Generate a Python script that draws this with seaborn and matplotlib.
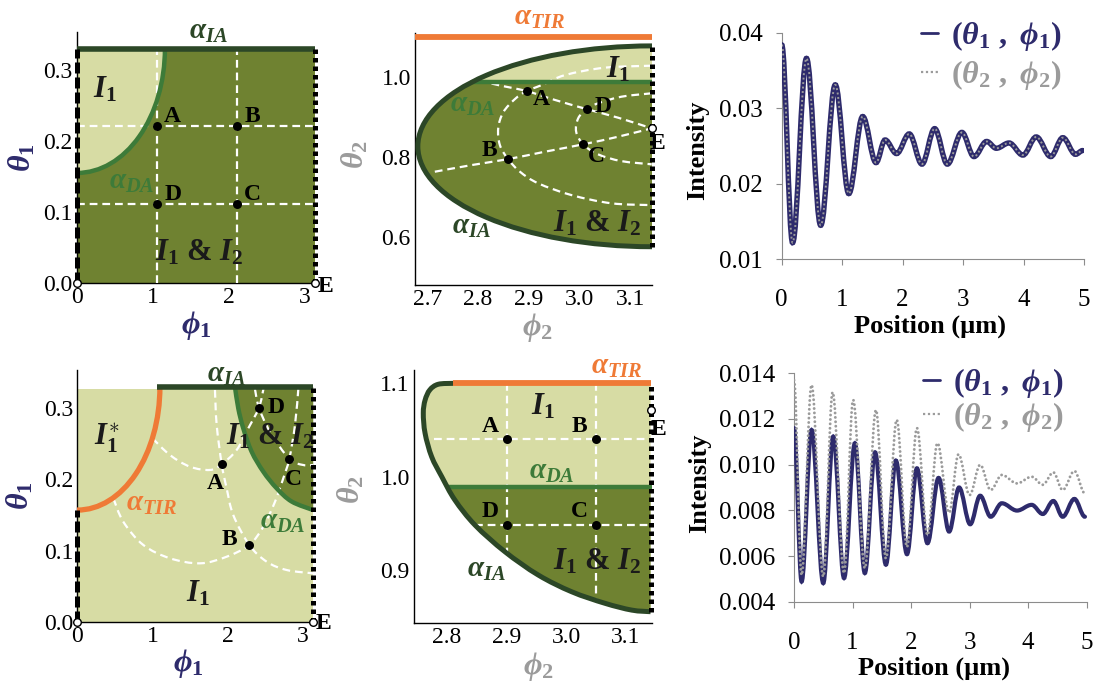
import numpy as np
import matplotlib
matplotlib.use("Agg")
import matplotlib.pyplot as plt
import seaborn as sns
from matplotlib.path import Path
from matplotlib.patches import PathPatch, Ellipse, Rectangle
from matplotlib.lines import Line2D

sns.set_theme(style="white")
plt.rcParams["font.family"] = ["Liberation Serif", "DejaVu Serif"]
plt.rcParams["mathtext.fontset"] = "custom"
plt.rcParams["mathtext.rm"] = "Liberation Serif:bold"
plt.rcParams["mathtext.it"] = "Liberation Serif:italic:bold"
plt.rcParams["mathtext.bf"] = "Liberation Serif:bold"

PI = np.pi

# ---------------- colours ----------------
DARK_FILL = "#6f8231"
LIGHT_FILL = "#d7dca4"
IA_GREEN = "#2c4727"
DA_GREEN = "#3d7b39"
TIR_ORANGE = "#ef7a36"
NAVY = "#2e2b6c"
GREY = "#9b9b9b"

# ---------------- data: top-left map (theta1 vs phi1) ----------------
tl_names = ["A", "B", "C", "D"]
tl_phi = [1.06, 2.115, 2.115, 1.06]
tl_theta = [0.221, 0.221, 0.111, 0.111]
tl_grid_phi = [1.06, 2.115]
tl_grid_theta = [0.221, 0.111]
tl_ia_theta = 0.33
tl_da_centre = (0.0, 0.33)
tl_da_half_axes = (1.16, 0.175)

# ---------------- data: top-middle map (theta2 vs phi2) ----------------
tm_names = ["A", "B", "C", "D"]
tm_phi = [2.8955, 2.859, 3.007, 3.0135]
tm_theta = [0.964, 0.794, 0.831, 0.919]
tm_e = (PI, 0.871)
tm_tir_theta = 1.10
tm_da_theta = 0.9875
tm_da_start = 2.789
tm_ia_centre = (PI, 0.826)
tm_ia_half_axes = (0.46, 0.251)
tm_ade_phi = [2.778, 2.840, 2.8955, 2.951, 3.0135, 3.0756, PI]
tm_ade_theta = [0.997, 0.979, 0.964, 0.942, 0.919, 0.8975, 0.871]
tm_bce_phi = [2.715, 2.787, 2.859, 2.9315, 3.007, 3.0756, PI]
tm_bce_theta = [0.7625, 0.779, 0.794, 0.8125, 0.831, 0.85, 0.871]
tm_ab_phi = [PI, 3.049, 2.971, 2.925, 2.8955, 2.8725, 2.8496, 2.8397, 2.843,
             2.859, 2.8824, 2.9183, 2.984, 3.0626, PI]
tm_ab_theta = [1.0275, 1.0225, 1.004, 0.979, 0.964, 0.944, 0.911, 0.871, 0.829,
               0.794, 0.7625, 0.7335, 0.704, 0.6835, 0.679]
tm_dc_phi = [PI, 3.082, 3.036, 3.0135, 2.997, 2.993, 3.007, 3.036, 3.082, PI]
tm_dc_theta = [0.9585, 0.95, 0.9335, 0.919, 0.896, 0.8625, 0.831, 0.806, 0.789, 0.781]

# ---------------- data: bottom-left map (theta1 vs phi1) ----------------
bl_names = ["A", "B", "C", "D"]
bl_phi = [1.923, 2.290, 2.823, 2.419]
bl_theta = [0.2214, 0.108, 0.229, 0.301]
bl_top = 0.33
bl_ia_start = 1.065
bl_tir_centre = (0.0, 0.33)
bl_tir_half_axes = (1.10, 0.173)
bl_da_phi = [2.100, 2.144, 2.210, 2.322, 2.477, 2.655, 2.855, PI]
bl_da_theta = [0.33, 0.300, 0.272, 0.239, 0.211, 0.1876, 0.169, 0.157]
bl_inner_phi = [1.0, 1.234, 1.501, 1.767, 1.923, 2.122, 2.277, 2.419, 2.48]
bl_inner_theta = [0.258, 0.2344, 0.218, 0.2134, 0.2214, 0.2415, 0.272, 0.301, 0.328]
bl_outer_phi = [0.48, 0.6125, 0.879, 1.234, 1.634, 1.989, 2.290, 2.477, 2.633,
                2.743, 2.823, 2.899, 2.943]
bl_outer_theta = [0.1736, 0.1406, 0.1079, 0.0892, 0.0821, 0.0914, 0.108, 0.1336,
                  0.1688, 0.2017, 0.229, 0.2767, 0.327]
bl_ab_phi = [1.833, 1.856, 1.923, 1.989, 2.077, 2.290, 2.522, 2.788, PI]
bl_ab_theta = [0.326, 0.2767, 0.2214, 0.1876, 0.150, 0.108, 0.0844, 0.0727, 0.068]
bl_dc_phi = [2.366, 2.419, 2.566, 2.823, 3.009, PI]
bl_dc_theta = [0.327, 0.301, 0.267, 0.229, 0.2204, 0.2204]

# ---------------- data: bottom-middle map (theta2 vs phi2) ----------------
bm_names = ["A", "B", "C", "D"]
bm_phi = [2.9, 3.05, 3.05, 2.9]
bm_theta = [1.04, 1.04, 0.948, 0.948]
bm_e = (PI, 1.0715)
bm_tir_theta = 1.10
bm_tir_start = 2.81
bm_da_theta = 0.989
bm_da_start = 2.801
bm_ia_phi = [2.810, 2.785, 2.771, 2.763, 2.760, 2.763, 2.774, 2.791, 2.813, 2.847,
             2.897, 2.953, 3.009, 3.065, 3.110, PI]
bm_ia_theta = [1.100, 1.099, 1.093, 1.082, 1.068, 1.0465, 1.0214, 1.0, 0.975, 0.948,
               0.9196, 0.8946, 0.8767, 0.8643, 0.857, 0.8553]
bm_hline_start = [2.778, 2.847]
bm_vline_end = [0.9196, 0.867]

# ---------------- data: intensity profiles (extrema along position) ----------------
tr_pos = [0, 0.18, 0.41, 0.645, 0.886, 1.11, 1.34, 1.56, 1.71, 1.90, 2.11, 2.32,
          2.53, 2.74, 2.98, 3.18, 3.39, 3.55, 3.76, 3.99, 4.21, 4.45, 4.65, 4.86, 4.98]
tr_int1 = [0.0384, 0.0122, 0.0366, 0.0145, 0.0331, 0.0187, 0.0289, 0.0228, 0.0258,
           0.0240, 0.0266, 0.0226, 0.0273, 0.0226, 0.0268, 0.0236, 0.0256, 0.0247,
           0.0254, 0.0238, 0.0262, 0.0236, 0.0261, 0.0239, 0.0244]
# the second configuration coincides with the first one here
tr_int2 = list(tr_int1)

br_pos1 = [0, 0.13, 0.30, 0.50, 0.67, 0.855, 1.04, 1.21, 1.385, 1.57, 1.74, 1.93,
           2.10, 2.28, 2.47, 2.65, 2.82, 3.01, 3.18, 3.36, 3.55, 3.81, 4.06, 4.25,
           4.43, 4.59, 4.79, 4.97]
br_int1 = [0.0116, 0.00488, 0.01152, 0.00481, 0.01123, 0.00503, 0.01094, 0.00525,
           0.01054, 0.00562, 0.01018, 0.00608, 0.00984, 0.00656, 0.00942, 0.00707,
           0.00900, 0.00739, 0.00864, 0.00772, 0.00831, 0.00799, 0.00824, 0.00784,
           0.00841, 0.00772, 0.00850, 0.00772]
br_pos2 = [0, 0.13, 0.30, 0.50, 0.66, 0.855, 1.01, 1.21, 1.40, 1.57, 1.755, 1.93,
           2.10, 2.28, 2.45, 2.65, 2.81, 3.00, 3.18, 3.36, 3.55, 3.81, 4.06, 4.25,
           4.43, 4.59, 4.79, 4.97]
br_int2 = [0.0137, 0.00517, 0.01349, 0.0051, 0.01317, 0.00525, 0.01283, 0.00547,
           0.01239, 0.0059, 0.01196, 0.0064, 0.0116, 0.00692, 0.01094, 0.0079,
           0.01045, 0.00867, 0.00999, 0.00889, 0.00955, 0.00918, 0.00947, 0.00912,
           0.00966, 0.00889, 0.00972, 0.00874]

# ---------------- helpers ----------------
W, H = 1099, 683
fig = plt.figure(figsize=(W / 100, H / 100), dpi=100)
fig.patch.set_facecolor("white")


def add_px_axes(l, t, r, b):
    return fig.add_axes([l / W, 1 - b / H, (r - l) / W, (b - t) / H])


def smooth_path(xs, ys):
    p = np.column_stack([xs, ys]).astype(float)
    n = len(p)
    verts, codes = [p[0]], [Path.MOVETO]
    for i in range(n - 1):
        p0 = p[i - 1] if i > 0 else p[i]
        p3 = p[i + 2] if i + 2 < n else p[i + 1]
        verts += [p[i] + (p[i + 1] - p0) / 6.0, p[i + 1] - (p3 - p[i]) / 6.0, p[i + 1]]
        codes += [Path.CURVE4] * 3
    return verts, codes


def wave_path(xs, ys, k=0.36):
    verts, codes = [(xs[0], ys[0])], [Path.MOVETO]
    for i in range(len(xs) - 1):
        dx = xs[i + 1] - xs[i]
        verts += [(xs[i] + k * dx, ys[i]), (xs[i + 1] - k * dx, ys[i + 1]), (xs[i + 1], ys[i + 1])]
        codes += [Path.CURVE4] * 3
    return verts, codes


def curve(ax, xs, ys, clip=None, **kw):
    v, c = smooth_path(xs, ys)
    patch = PathPatch(Path(v, c), fill=False, **kw)
    ax.add_patch(patch)
    if clip is not None:
        patch.set_clip_path(clip)
    return patch


def white_dash(ax, xs, ys):
    curve(ax, xs, ys, edgecolor="white", lw=1.6, linestyle=(0, (3.5, 2.2)), zorder=3)


def phase_style(ax, xlim, ylim, xticks, xlabels, yticks, ylabels):
    ax.set_xlim(*xlim)
    ax.set_ylim(*ylim)
    ax.set_xticks(xticks)
    ax.set_xticklabels(xlabels)
    ax.set_yticks(yticks)
    ax.set_yticklabels(ylabels)
    ax.set_facecolor("none")
    for s in ["top", "right"]:
        ax.spines[s].set_visible(False)
    for s in ["left", "bottom"]:
        ax.spines[s].set_color("black")
        ax.spines[s].set_linewidth(1.0)
    ax.tick_params(length=0, labelsize=17, pad=3, colors="black")


def edge_lines(ax, left=None, right=None):
    if left is not None:
        ax.plot([left[0], left[0]], [left[1], left[2]], color="black", lw=3.6,
                dashes=(2.2, 0.8), solid_capstyle="butt", dash_capstyle="butt",
                zorder=5, clip_on=False)
    if right is not None:
        ax.plot([right[0], right[0]], [right[1], right[2]], color="black", lw=3.6,
                dashes=(0.9, 0.8), dash_capstyle="butt", zorder=5, clip_on=False)


def points(ax, xs, ys, names, offsets):
    sns.scatterplot(x=xs, y=ys, ax=ax, color="black", s=42, edgecolor="black",
                    linewidth=0, zorder=7, legend=False)
    for x, y, n, off in zip(xs, ys, names, offsets):
        ax.annotate(n, (x, y), xytext=off, textcoords="offset points", ha="center",
                    va="center", fontsize=17, fontweight="bold", color="black", zorder=8)


def open_point(ax, x, y, label=None, off=(7, -2)):
    sns.scatterplot(x=[x], y=[y], ax=ax, color="white", s=30, edgecolor="black",
                    linewidth=1.0, zorder=9, legend=False)
    ax.collections[-1].set_clip_on(False)
    if label:
        ax.annotate(label, (x, y), xytext=off, textcoords="offset points", ha="center",
                    va="center", fontsize=17, fontweight="bold", color="black", zorder=9)


def region_text(ax, x, y, s, color="#1a1a1a", size=22):
    ax.text(x, y, s, ha="center", va="center", fontsize=size, color=color,
            fontweight="bold", zorder=8)


# =============== top-left panel ===============
ax = add_px_axes(77, 32, 316.5, 283)
phase_style(ax, (0, 3.16), (0, 0.3535), [0, 1, 2, 3], ["0", "1", "2", "3"],
            [0, 0.1, 0.2, 0.3], ["0.0", "0.1", "0.2", "0.3"])
box = Rectangle((0, 0), PI, tl_ia_theta, transform=ax.transData)
ax.add_patch(Rectangle((0, 0), PI, tl_ia_theta, facecolor=DARK_FILL, edgecolor="none", zorder=1))
light = Ellipse(tl_da_centre, 2 * tl_da_half_axes[0], 2 * tl_da_half_axes[1],
                facecolor=LIGHT_FILL, edgecolor="none", zorder=1.5)
ax.add_patch(light)
light.set_clip_path(box)
for g in tl_grid_theta:
    ax.plot([0, PI], [g, g], color="white", lw=1.6, dashes=(3.5, 2.2), zorder=3)
for g in tl_grid_phi:
    ax.plot([g, g], [0, tl_ia_theta], color="white", lw=1.6, dashes=(3.5, 2.2), zorder=3)
outline = Ellipse(tl_da_centre, 2 * tl_da_half_axes[0], 2 * tl_da_half_axes[1],
                  facecolor="none", edgecolor=DA_GREEN, lw=3.2, zorder=4)
ax.add_patch(outline)
outline.set_clip_path(box)
ax.plot([0, PI], [tl_ia_theta, tl_ia_theta], color=IA_GREEN, lw=4, zorder=4,
        solid_capstyle="butt", clip_on=False)
edge_lines(ax, left=(0, 0, tl_ia_theta), right=(PI, 0, tl_ia_theta))
points(ax, tl_phi, tl_theta, tl_names, [(11, 7)] * 4)
open_point(ax, 0, 0)
open_point(ax, PI, 0, "E", (7.5, -2.5))
region_text(ax, 0.37, 0.272, r"$I_1$")
region_text(ax, 1.61, 0.042, r"$I_1$ & $I_2$")
region_text(ax, 0.72, 0.143, r"$\alpha_{DA}$", DA_GREEN, 21)
region_text(ax, 1.73, 0.3535, r"$\alpha_{IA}$", IA_GREEN, 21)
ax.set_ylabel(r"$\theta_1$", fontsize=23, color=NAVY)
ax.yaxis.set_label_coords(-0.165, 0.5)
ax.set_xlabel(r"$\phi_1$", fontsize=23, color=NAVY)
ax.xaxis.set_label_coords(0.5, -0.105)

# =============== top-middle panel ===============
ax = add_px_axes(415, 33.3, 651.7, 285)
phase_style(ax, (2.676, PI), (0.4793, 1.1085), [2.7, 2.8, 2.9, 3.0, 3.1],
            ["2.7", "2.8", "2.9", "3.0", "3.1"], [0.6, 0.8, 1.0], ["0.6", "0.8", "1.0"])
upper = Rectangle((2.676, tm_da_theta), PI - 2.676, 0.11, transform=ax.transData)
ax.add_patch(Ellipse(tm_ia_centre, 2 * tm_ia_half_axes[0], 2 * tm_ia_half_axes[1],
                     facecolor=DARK_FILL, edgecolor="none", zorder=1))
lt = Ellipse(tm_ia_centre, 2 * tm_ia_half_axes[0], 2 * tm_ia_half_axes[1],
             facecolor=LIGHT_FILL, edgecolor="none", zorder=1.5)
ax.add_patch(lt)
lt.set_clip_path(upper)
white_dash(ax, tm_ade_phi, tm_ade_theta)
white_dash(ax, tm_bce_phi, tm_bce_theta)
white_dash(ax, tm_ab_phi, tm_ab_theta)
white_dash(ax, tm_dc_phi, tm_dc_theta)
ax.plot([tm_da_start, PI], [tm_da_theta, tm_da_theta], color=DA_GREEN, lw=3.2, zorder=4)
ax.add_patch(Ellipse(tm_ia_centre, 2 * tm_ia_half_axes[0], 2 * tm_ia_half_axes[1],
                     facecolor="none", edgecolor=IA_GREEN, lw=3.6, zorder=4))
ax.plot([2.676, PI], [tm_tir_theta, tm_tir_theta], color=TIR_ORANGE, lw=4.2, zorder=4,
        solid_capstyle="butt", clip_on=False)
edge_lines(ax, right=(PI, tm_ia_centre[1] - tm_ia_half_axes[1], tm_ia_centre[1] + tm_ia_half_axes[1]))
points(ax, tm_phi, tm_theta, tm_names, [(10.8, -5.8), (-13.2, 6.5), (9.6, -8.9), (12, 1.7)])
open_point(ax, tm_e[0], tm_e[1], "E", (4.3, -10.8))
region_text(ax, 3.075, 1.017, r"$I_1$")
region_text(ax, 3.033, 0.633, r"$I_1$ & $I_2$")
region_text(ax, 2.79, 0.93, r"$\alpha_{DA}$", DA_GREEN, 21)
region_text(ax, 2.787, 0.625, r"$\alpha_{IA}$", IA_GREEN, 21)
region_text(ax, 2.922, 1.149, r"$\alpha_{TIR}$", TIR_ORANGE, 21)
ax.set_ylabel(r"$\theta_2$", fontsize=23, color=GREY)
ax.yaxis.set_label_coords(-0.19, 0.52)
ax.set_xlabel(r"$\phi_2$", fontsize=23, color=GREY)
ax.xaxis.set_label_coords(0.515, -0.105)

# =============== bottom-left panel ===============
ax = add_px_axes(77.3, 370, 314.6, 621.7)
phase_style(ax, (0, 3.16), (0, 0.354), [0, 1, 2, 3], ["0", "1", "2", "3"],
            [0, 0.1, 0.2, 0.3], ["0.0", "0.1", "0.2", "0.3"])
box = Rectangle((0, 0), PI, bl_top, transform=ax.transData)
ax.add_patch(Rectangle((0, 0), PI, 0.327, facecolor=LIGHT_FILL, edgecolor="none", zorder=1))
v, c = smooth_path(bl_da_phi, bl_da_theta)
v = v + [(PI, bl_top), (bl_da_phi[0], bl_top), (bl_da_phi[0], bl_top)]
c = c + [Path.LINETO, Path.LINETO, Path.CLOSEPOLY]
ax.add_patch(PathPatch(Path(v, c), facecolor=DARK_FILL, edgecolor="none", zorder=1.5))
white_dash(ax, bl_inner_phi, bl_inner_theta)
white_dash(ax, bl_outer_phi, bl_outer_theta)
white_dash(ax, bl_ab_phi, bl_ab_theta)
white_dash(ax, bl_dc_phi, bl_dc_theta)
curve(ax, bl_da_phi, bl_da_theta, edgecolor=DA_GREEN, lw=3.2, zorder=4)
tir = Ellipse(bl_tir_centre, 2 * bl_tir_half_axes[0], 2 * bl_tir_half_axes[1],
              facecolor="none", edgecolor=TIR_ORANGE, lw=3.8, zorder=4)
ax.add_patch(tir)
tir.set_clip_path(box)
ax.plot([bl_ia_start, PI], [bl_top, bl_top], color=IA_GREEN, lw=4, zorder=4,
        solid_capstyle="butt", clip_on=False)
edge_lines(ax, left=(0, 0, bl_tir_centre[1] - bl_tir_half_axes[1]), right=(PI, 0, bl_top))
points(ax, bl_phi, bl_theta, bl_names, [(-4.8, -13.7), (-14.4, 3.6), (2.9, -15.1), (12.7, 0)])
open_point(ax, 0, 0)
open_point(ax, PI, 0, "E", (7.2, -1.2))
region_text(ax, 0.39, 0.258, r"$I_1^{\ast}$")
region_text(ax, 2.566, 0.26, r"$I_1$ & $I_2$")
region_text(ax, 1.611, 0.040, r"$I_1$")
region_text(ax, 0.99, 0.1665, r"$\alpha_{TIR}$", TIR_ORANGE, 21)
region_text(ax, 2.743, 0.141, r"$\alpha_{DA}$", DA_GREEN, 21)
region_text(ax, 1.99, 0.347, r"$\alpha_{IA}$", IA_GREEN, 21)
ax.set_ylabel(r"$\theta_1$", fontsize=23, color=NAVY)
ax.yaxis.set_label_coords(-0.178, 0.5)
ax.set_xlabel(r"$\phi_1$", fontsize=23, color=NAVY)
ax.xaxis.set_label_coords(0.466, -0.1)

# =============== bottom-middle panel ===============
ax = add_px_axes(414, 370, 651.7, 622.7)
phase_style(ax, (2.7444, 3.1435), (0.8435, 1.1143), [2.8, 2.9, 3.0, 3.1],
            ["2.8", "2.9", "3.0", "3.1"], [0.9, 1.0, 1.1], ["0.9", "1.0", "1.1"])
v, c = smooth_path(bm_ia_phi, bm_ia_theta)
v = v + [(PI, bm_tir_theta), (PI, bm_tir_theta)]
c = c + [Path.LINETO, Path.CLOSEPOLY]
ax.add_patch(PathPatch(Path(v, c), facecolor=LIGHT_FILL, edgecolor="none", zorder=1))
lower = Rectangle((2.7444, 0.8435), 0.4, bm_da_theta - 0.8435, transform=ax.transData)
dk = PathPatch(Path(v, c), facecolor=DARK_FILL, edgecolor="none", zorder=1.5)
ax.add_patch(dk)
dk.set_clip_path(lower)
for y0, x0 in zip(bm_theta[1:3], bm_hline_start):
    ax.plot([x0, PI], [y0, y0], color="white", lw=1.6, dashes=(3.5, 2.2), zorder=3)
for x0, y1 in zip(bm_phi[:2], bm_vline_end):
    ax.plot([x0, x0], [bm_tir_theta, y1], color="white", lw=1.6, dashes=(3.5, 2.2), zorder=3)
ax.plot([bm_da_start, PI], [bm_da_theta, bm_da_theta], color=DA_GREEN, lw=3.2, zorder=4)
curve(ax, bm_ia_phi, bm_ia_theta, edgecolor=IA_GREEN, lw=3.6, zorder=4)
ax.plot([bm_tir_start, PI], [bm_tir_theta, bm_tir_theta], color=TIR_ORANGE, lw=4.2,
        zorder=4, solid_capstyle="butt")
edge_lines(ax, right=(PI, bm_ia_theta[-1], bm_tir_theta))
points(ax, bm_phi, bm_theta, bm_names, [(-12, 9.4), (-12, 9.4), (-12, 9.6), (-12, 9.6)])
open_point(ax, bm_e[0], bm_e[1], "E", (5.5, -14.4))
region_text(ax, 2.961, 1.075, r"$I_1$")
region_text(ax, 3.051, 0.909, r"$I_1$ & $I_2$")
region_text(ax, 2.976, 1.005, r"$\alpha_{DA}$", DA_GREEN, 21)
region_text(ax, 2.866, 0.90, r"$\alpha_{IA}$", IA_GREEN, 21)
region_text(ax, 3.085, 1.118, r"$\alpha_{TIR}$", TIR_ORANGE, 21)
ax.set_ylabel(r"$\theta_2$", fontsize=23, color=GREY)
ax.yaxis.set_label_coords(-0.198, 0.525)
ax.set_xlabel(r"$\phi_2$", fontsize=23, color=GREY)
ax.xaxis.set_label_coords(0.523, -0.108)


# =============== intensity panels ===============
def intensity_style(ax, ylim, yticks, ylabels):
    ax.set_xlim(0, 5)
    ax.set_ylim(*ylim)
    ax.set_xticks([0, 1, 2, 3, 4, 5])
    ax.set_xticklabels(["0", "1", "2", "3", "4", "5"])
    ax.set_yticks(yticks)
    ax.set_yticklabels(ylabels)
    for s in ["top", "right"]:
        ax.spines[s].set_visible(False)
    for s in ["left", "bottom"]:
        ax.spines[s].set_color("#8c8c8c")
        ax.spines[s].set_linewidth(0.8)
    ax.tick_params(bottom=True, left=True, direction="out", length=4.5, width=0.8,
                   color="#8c8c8c", labelsize=18, labelcolor="black")
    ax.tick_params(axis="x", pad=17)
    ax.tick_params(axis="y", pad=9)
    ax.set_facecolor("none")


def wave(ax, xs, ys, **kw):
    v, c = wave_path(xs, ys)
    p = PathPatch(Path(v, c), fill=False, **kw)
    ax.add_patch(p)
    return p


def legend(ax, anchor, spacing):
    handles = [Line2D([], [], color=NAVY, lw=2.0),
               Line2D([], [], color=GREY, lw=1.6, dashes=(1, 1.2))]
    labels = [r"$(\theta_1\ ,\ \phi_1)$", r"$(\theta_2\ ,\ \phi_2)$"]
    ax.legend(handles, labels, loc="upper left", bbox_to_anchor=anchor, frameon=False,
              fontsize=23, handlelength=0.55, handletextpad=0.4, labelspacing=spacing,
              borderpad=0, borderaxespad=0, labelcolor=[NAVY, GREY])


# top-right
ax = add_px_axes(781.7, 32.7, 1084, 259.3)
intensity_style(ax, (0.01, 0.04), [0.01, 0.02, 0.03, 0.04], ["0.01", "0.02", "0.03", "0.04"])
p = wave(ax, tr_pos, tr_int1, edgecolor=NAVY, lw=3.9, zorder=3)
p.set_capstyle("round")
p = wave(ax, tr_pos, tr_int2, edgecolor=GREY, lw=1.4, linestyle=(0, (1.0, 1.3)), zorder=4)
legend(ax, (0.46, 1.06), 0.15)
ax.set_ylabel("Intensity", fontsize=19, fontweight="bold", color="black")
ax.yaxis.set_label_coords(-0.24, 0.48)
ax.set_xlabel("Position (µm)", fontsize=19, fontweight="bold", color="black")
ax.xaxis.set_label_coords(0.49, -0.246)

# bottom-right
ax = add_px_axes(794, 373.3, 1086.7, 601.7)
intensity_style(ax, (0.004, 0.014), [0.004, 0.006, 0.008, 0.010, 0.012, 0.014],
                ["0.004", "0.006", "0.008", "0.010", "0.012", "0.014"])
p = wave(ax, br_pos1, br_int1, edgecolor=NAVY, lw=3.0, zorder=3)
p.set_capstyle("round")
p = wave(ax, br_pos2, br_int2, edgecolor=GREY, lw=2.1, linestyle=(0, (0.01, 1.5)), zorder=4)
p.set_capstyle("round")
legend(ax, (0.44, 1.03), 0.0)
ax.set_ylabel("Intensity", fontsize=19, fontweight="bold", color="black")
ax.yaxis.set_label_coords(-0.284, 0.52)
ax.set_xlabel("Position (µm)", fontsize=19, fontweight="bold", color="black")
ax.xaxis.set_label_coords(0.478, -0.242)

fig.savefig("out.png", dpi=100, facecolor="white")
